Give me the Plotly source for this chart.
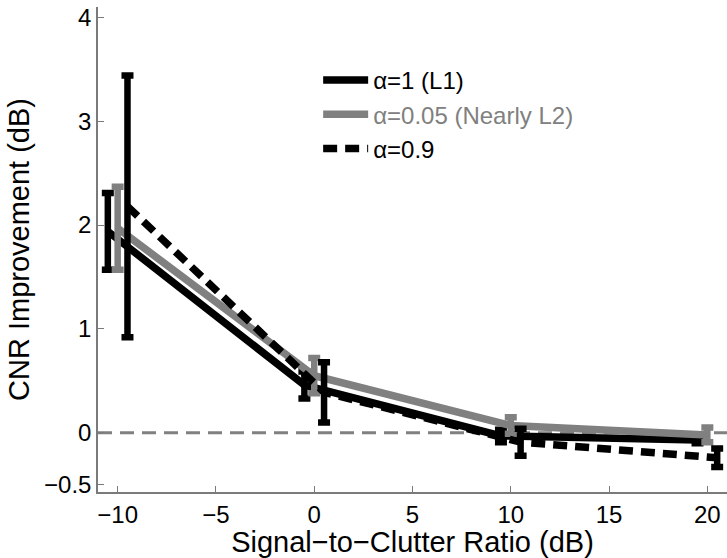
import plotly.graph_objects as go

# Data
scr = [-10, 0, 10, 20]            # Signal-to-Clutter Ratio (dB)
offsets = {"a1": -0.5, "a005": 0.0, "a09": 0.5}   # horizontal dodge of each series

a1_mean = [1.94, 0.46, -0.03, -0.07]
a1_err = [0.37, 0.13, 0.06, 0.03]

a005_mean = [1.97, 0.55, 0.07, -0.02]
a005_err = [0.40, 0.17, 0.08, 0.07]

a09_mean = [2.18, 0.39, -0.09, -0.24]
a09_err = [1.26, 0.29, 0.13, 0.09]

x_ticks = [-10, -5, 0, 5, 10, 15, 20]
y_ticks = [-0.5, 0, 1, 2, 3, 4]
y_ticklabels = ["\u22120.5", "0", "1", "2", "3", "4"]
x_ticklabels = ["\u221210", "\u22125", "0", "5", "10", "15", "20"]

BLACK = "#000000"
GRAY = "#808080"
FONT = "Liberation Sans, Arial, Helvetica, sans-serif"

fig = go.Figure()

def add_series(name, key, means, errs, color, dash):
    xs = [x + offsets[key] for x in scr]
    fig.add_trace(go.Scatter(
        x=xs, y=means, mode="lines", name=name,
        line=dict(color=color, width=7.5, dash=dash),
        error_y=dict(type="data", array=errs, visible=True,
                     color=color, thickness=6.5, width=6),
    ))

add_series("\u03b1=1 (L1)", "a1", a1_mean, a1_err, BLACK, "solid")
add_series("<span style='color:#808080'>\u03b1=0.05 (Nearly L2)</span>",
           "a005", a005_mean, a005_err, GRAY, "solid")
add_series("\u03b1=0.9", "a09", a09_mean, a09_err, BLACK, "14px,8px")

fig.add_hline(y=0, line=dict(color=GRAY, width=3, dash="14px,8px"), layer="below")

fig.update_layout(
    width=727, height=558,
    margin=dict(l=98, r=0, t=7, b=66),
    paper_bgcolor="white", plot_bgcolor="white",
    font=dict(family=FONT, size=24, color="black"),
    showlegend=True,
    legend=dict(x=0.35, y=0.895, xanchor="left", yanchor="top",
                itemwidth=45,
                bgcolor="rgba(0,0,0,0)", borderwidth=0,
                font=dict(family=FONT, size=24, color="black")),
    xaxis=dict(range=[-11, 21], tickvals=x_ticks, ticktext=x_ticklabels,
               showgrid=False, zeroline=False, showline=True,
               linecolor="#7a7a7a", linewidth=1.5,
               ticks="inside", ticklen=6, tickcolor="#7a7a7a",
               title=dict(text="Signal\u2212to\u2212Clutter Ratio (dB)", standoff=0)),
    yaxis=dict(range=[-0.57, 4.1], tickvals=y_ticks, ticktext=y_ticklabels,
               showgrid=False, zeroline=False, showline=True,
               linecolor="#7a7a7a", linewidth=1.5,
               ticks="inside", ticklen=6, tickcolor="#7a7a7a",
               title=dict(text="CNR Improvement (dB)", standoff=6)),
)

fig.write_html("out.html")
